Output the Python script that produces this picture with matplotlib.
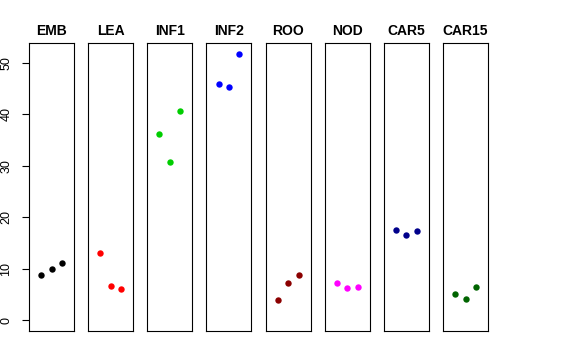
import numpy as np
import matplotlib.pyplot as plt

plt.rcParams['font.family'] = ['Liberation Sans', 'DejaVu Sans']

tissues = ['EMB', 'LEA', 'INF1', 'INF2', 'ROO', 'NOD', 'CAR5', 'CAR15']
colors = ['black', 'red', '#00CD00', 'blue', '#8B0000', 'magenta', '#00008B', '#006400']

emb = [8.8, 10.0, 11.1]
lea = [13.1, 6.7, 6.1]
inf1 = [36.1, 30.8, 40.7]
inf2 = [45.9, 45.3, 51.8]
roo = [3.9, 7.3, 8.8]
nod = [7.25, 6.3, 6.5]
car5 = [17.5, 16.6, 17.4]
car15 = [5.2, 4.1, 6.5]

values = [emb, lea, inf1, inf2, roo, nod, car5, car15]
reps = [1, 2, 3]
yticks = [0, 10, 20, 30, 40, 50]

W, H = 576, 360
fig = plt.figure(figsize=(W / 100, H / 100), dpi=100)

ymax = max(max(v) for v in values)
yr = (0 - 0.04 * ymax, ymax * 1.04)

left0, step, width = 29, 59.15, 45
top, bottom = 43, 331

for i, (name, vals, c) in enumerate(zip(tissues, values, colors)):
    ax = fig.add_axes([(left0 + i * step) / W, 1 - bottom / H,
                       width / W, (bottom - top) / H])
    ax.plot(reps, vals, 'o', color=c, markersize=4.6, markeredgewidth=0)
    ax.set_xlim(-0.16, 4.16)
    ax.set_ylim(*yr)
    ax.set_xticks([])
    for s in ax.spines.values():
        s.set_linewidth(0.8)
        s.set_color('black')
    ax.set_title(name, fontsize=10, fontweight='bold', pad=6)
    if i == 0:
        ax.set_yticks(yticks)
        ax.set_yticklabels([str(t) for t in yticks], rotation=90, va='center')
        ax.tick_params(axis='y', length=5, width=0.8, pad=7, labelsize=9)
    else:
        ax.set_yticks([])

fig.savefig('out.png', dpi=100)
